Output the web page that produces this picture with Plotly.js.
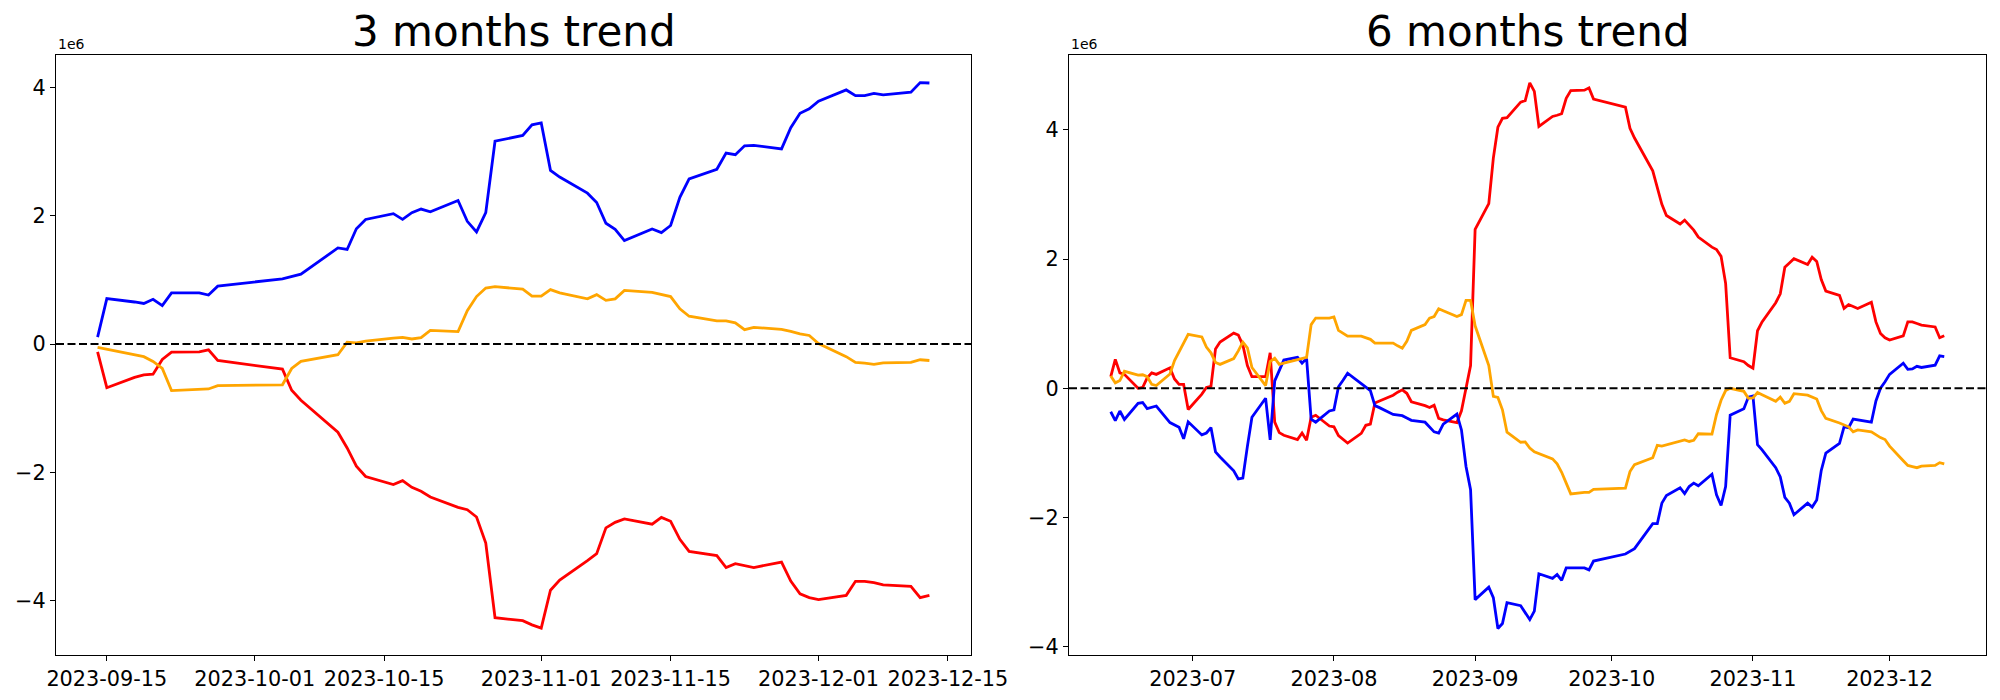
<!DOCTYPE html>
<html>
<head>
<meta charset="utf-8">
<script src="https://cdn.plot.ly/plotly-3.0.1.min.js"></script>
<style>html,body{margin:0;padding:0;background:#fff}#chart{width:2000px;height:700px}</style>
</head>
<body>
<div id="chart"></div>
<script>
// ---- 3 months panel (values in units of 1e6) ----
const leftDates = ['2023-09-14','2023-09-15','2023-09-18','2023-09-19','2023-09-20','2023-09-21','2023-09-22','2023-09-25','2023-09-26','2023-09-27','2023-10-04','2023-10-05','2023-10-06','2023-10-10','2023-10-11','2023-10-12','2023-10-13','2023-10-16','2023-10-17','2023-10-18','2023-10-19','2023-10-20','2023-10-23','2023-10-24','2023-10-25','2023-10-26','2023-10-27','2023-10-30','2023-10-31','2023-11-01','2023-11-02','2023-11-03','2023-11-06','2023-11-07','2023-11-08','2023-11-09','2023-11-10','2023-11-13','2023-11-14','2023-11-15','2023-11-16','2023-11-17','2023-11-20','2023-11-21','2023-11-22','2023-11-23','2023-11-24','2023-11-27','2023-11-28','2023-11-29','2023-11-30','2023-12-01','2023-12-04','2023-12-05','2023-12-06','2023-12-07','2023-12-08','2023-12-11','2023-12-12','2023-12-13'];
const leftBlue = [0.11,0.71,0.657,0.634,0.70,0.60,0.80,0.80,0.766,0.904,1.019,1.055,1.09,1.50,1.476,1.80,1.945,2.035,1.945,2.05,2.107,2.065,2.24,1.915,1.75,2.05,3.165,3.255,3.42,3.45,2.71,2.606,2.355,2.21,1.885,1.79,1.614,1.795,1.74,1.85,2.29,2.576,2.727,2.98,2.955,3.093,3.10,3.045,3.375,3.60,3.67,3.79,3.965,3.875,3.875,3.91,3.887,3.93,4.08,4.073];
const leftRed = [-0.12,-0.68,-0.52,-0.48,-0.47,-0.24,-0.125,-0.12,-0.09,-0.256,-0.39,-0.72,-0.875,-1.375,-1.62,-1.905,-2.066,-2.19,-2.13,-2.235,-2.295,-2.385,-2.547,-2.583,-2.697,-3.105,-4.268,-4.315,-4.38,-4.43,-3.84,-3.68,-3.377,-3.27,-2.866,-2.78,-2.728,-2.81,-2.704,-2.764,-3.046,-3.233,-3.30,-3.486,-3.426,-3.45,-3.486,-3.40,-3.697,-3.895,-3.955,-3.985,-3.92,-3.70,-3.70,-3.72,-3.755,-3.78,-3.955,-3.92];
const leftOrange = [-0.05,-0.08,-0.166,-0.196,-0.27,-0.38,-0.725,-0.707,-0.70,-0.647,-0.635,-0.38,-0.268,-0.166,0.03,0.02,0.045,0.093,0.105,0.08,0.10,0.213,0.195,0.52,0.742,0.874,0.898,0.856,0.748,0.748,0.85,0.80,0.706,0.772,0.682,0.706,0.838,0.808,0.775,0.742,0.55,0.435,0.363,0.363,0.333,0.225,0.261,0.231,0.20,0.16,0.135,0.01,-0.196,-0.286,-0.298,-0.316,-0.292,-0.286,-0.244,-0.256];
const leftTicks = ['2023-09-15','2023-10-01','2023-10-15','2023-11-01','2023-11-15','2023-12-01','2023-12-15'];

// ---- 6 months panel (values in units of 1e6) ----
const rightDates = ['2023-06-13','2023-06-14','2023-06-15','2023-06-16','2023-06-19','2023-06-20','2023-06-21','2023-06-22','2023-06-23','2023-06-26','2023-06-27','2023-06-28','2023-06-29','2023-06-30',
'2023-07-03','2023-07-04','2023-07-05','2023-07-06','2023-07-07','2023-07-10','2023-07-11','2023-07-12','2023-07-13','2023-07-14','2023-07-17','2023-07-18','2023-07-19','2023-07-20','2023-07-21','2023-07-24','2023-07-25','2023-07-26','2023-07-27','2023-07-28','2023-07-31',
'2023-08-01','2023-08-02','2023-08-03','2023-08-04','2023-08-07','2023-08-08','2023-08-09','2023-08-10','2023-08-11','2023-08-14','2023-08-15','2023-08-16','2023-08-17','2023-08-18','2023-08-21','2023-08-22','2023-08-23','2023-08-24','2023-08-25','2023-08-28','2023-08-29','2023-08-30','2023-08-31',
'2023-09-01','2023-09-04','2023-09-05','2023-09-06','2023-09-07','2023-09-08','2023-09-11','2023-09-12','2023-09-13','2023-09-14','2023-09-15','2023-09-18','2023-09-19','2023-09-20','2023-09-21','2023-09-22','2023-09-25','2023-09-26','2023-09-27',
'2023-10-04','2023-10-05','2023-10-06','2023-10-10','2023-10-11','2023-10-12','2023-10-13','2023-10-16','2023-10-17','2023-10-18','2023-10-19','2023-10-20','2023-10-23','2023-10-24','2023-10-25','2023-10-26','2023-10-27','2023-10-30','2023-10-31',
'2023-11-01','2023-11-02','2023-11-03','2023-11-06','2023-11-07','2023-11-08','2023-11-09','2023-11-10','2023-11-13','2023-11-14','2023-11-15','2023-11-16','2023-11-17','2023-11-20','2023-11-21','2023-11-22','2023-11-23','2023-11-24','2023-11-27','2023-11-28','2023-11-29','2023-11-30',
'2023-12-01','2023-12-04','2023-12-05','2023-12-06','2023-12-07','2023-12-08','2023-12-11','2023-12-12','2023-12-13'];
const rightBlue = [-0.364,-0.50,-0.352,-0.484,-0.233,-0.221,-0.316,-0.293,-0.275,-0.531,-0.567,-0.603,-0.782,-0.52,
-0.722,-0.693,-0.609,-0.985,-1.063,-1.278,-1.403,-1.391,-0.90,-0.448,-0.155,-0.80,0.113,0.275,0.436,0.478,0.388,0.46,-0.48,-0.525,-0.352,
-0.334,0.024,0.125,0.233,0.072,0.018,-0.036,-0.269,-0.30,-0.406,-0.41,-0.424,-0.46,-0.496,-0.525,-0.597,-0.675,-0.693,-0.555,-0.40,-0.645,-1.212,-1.57,
-3.272,-3.08,-3.242,-3.72,-3.642,-3.319,-3.367,-3.469,-3.582,-3.45,-2.872,-2.943,-2.884,-2.973,-2.782,-2.782,-2.782,-2.812,-2.675,
-2.567,-2.525,-2.484,-2.096,-2.096,-1.779,-1.66,-1.54,-1.63,-1.522,-1.469,-1.51,-1.331,-1.648,-1.815,-1.522,-0.418,-0.316,-0.137,
-0.119,-0.872,-0.955,-1.23,-1.373,-1.69,-1.779,-1.958,-1.779,-1.839,-1.731,-1.272,-1.003,-0.854,-0.597,-0.609,-0.478,-0.49,-0.525,-0.197,0.0,0.101,
0.215,0.388,0.293,0.299,0.34,0.322,0.358,0.501,0.49];
const rightRed = [0.179,0.448,0.239,0.215,0.0,0.012,0.161,0.239,0.215,0.316,0.143,0.06,0.06,-0.328,
-0.09,0.012,0.03,0.609,0.716,0.854,0.824,0.669,0.352,0.179,0.179,0.549,-0.525,-0.687,-0.728,-0.794,-0.693,-0.806,-0.448,-0.418,-0.585,
-0.597,-0.734,-0.788,-0.848,-0.699,-0.573,-0.555,-0.227,-0.197,-0.107,-0.06,-0.024,-0.078,-0.209,-0.269,-0.299,-0.263,-0.466,-0.49,-0.531,-0.35,0.012,0.352,
2.46,2.86,3.564,4.042,4.179,4.19,4.43,4.454,4.728,4.597,4.054,4.209,4.227,4.251,4.49,4.609,4.615,4.651,4.478,
4.352,4.024,3.875,3.367,3.116,2.848,2.675,2.543,2.603,2.519,2.448,2.34,2.185,2.149,2.042,1.624,0.472,0.412,0.352,
0.31,0.89,1.027,1.325,1.463,1.875,1.94,2.006,1.916,2.03,1.964,1.684,1.504,1.439,1.236,1.296,1.266,1.236,1.331,1.027,0.848,0.782,
0.746,0.812,1.027,1.027,1.003,0.979,0.949,0.782,0.812];
const rightOrange = [0.191,0.084,0.119,0.263,0.203,0.209,0.179,0.06,0.042,0.221,0.43,0.567,0.704,0.836,
0.794,0.639,0.549,0.40,0.37,0.46,0.579,0.716,0.627,0.322,0.042,0.412,0.466,0.37,0.388,0.442,0.46,0.478,0.985,1.087,1.087,
1.104,0.896,0.854,0.806,0.806,0.782,0.758,0.699,0.699,0.699,0.657,0.621,0.728,0.896,0.985,1.087,1.11,1.23,1.20,1.11,1.14,1.361,1.361,
0.967,0.352,-0.125,-0.143,-0.334,-0.681,-0.836,-0.83,-0.925,-0.985,-1.009,-1.093,-1.17,-1.301,-1.469,-1.636,-1.612,-1.612,-1.564,
-1.546,-1.29,-1.182,-1.075,-0.884,-0.896,-0.878,-0.824,-0.80,-0.824,-0.806,-0.704,-0.71,-0.406,-0.185,-0.036,0.0,-0.048,-0.155,
-0.149,-0.066,-0.10,-0.203,-0.137,-0.233,-0.203,-0.084,-0.107,-0.137,-0.167,-0.346,-0.466,-0.537,-0.573,-0.597,-0.675,-0.645,-0.675,-0.722,-0.764,-0.794,
-0.896,-1.122,-1.194,-1.212,-1.23,-1.206,-1.194,-1.152,-1.17];
const rightTicks = ['2023-07-01','2023-08-01','2023-09-01','2023-10-01','2023-11-01','2023-12-01'];

const yTicks = [-4,-2,0,2,4];
const titles = ['3 months trend','6 months trend'];
const colors = {blue:'#0000ff', red:'#ff0000', orange:'#ffa500'};

const FONT = 'DejaVu Sans, sans-serif';
function line(x, y, color, xa, ya){
  return {x:x, y:y, type:'scatter', mode:'lines', xaxis:xa, yaxis:ya,
    line:{color:color, width:2.8}, hoverinfo:'skip', showlegend:false};
}
const data = [
  line(leftDates, leftBlue, colors.blue, 'x', 'y'),
  line(leftDates, leftRed, colors.red, 'x', 'y'),
  line(leftDates, leftOrange, colors.orange, 'x', 'y'),
  line(rightDates, rightRed, colors.red, 'x2', 'y2'),
  line(rightDates, rightBlue, colors.blue, 'x2', 'y2'),
  line(rightDates, rightOrange, colors.orange, 'x2', 'y2')
];

const yDom = [45/700, 645/700];
function xaxis(dom, range, ticks, fmt){
  return {domain:dom, range:range, type:'date', tickvals:ticks, tickformat:fmt,
    showgrid:false, zeroline:false, showline:true, mirror:true, linecolor:'#000', linewidth:1.1,
    ticks:'outside', ticklen:5, tickwidth:1.1, tickcolor:'#000',
    tickfont:{family:FONT, size:20.8, color:'#000'}, fixedrange:true};
}
function yaxis(range, anchor){
  return {domain:yDom, range:range, anchor:anchor, tickvals:yTicks,
    showgrid:false, zeroline:false, showline:true, mirror:true, linecolor:'#000', linewidth:1.1,
    ticks:'outside', ticklen:5, tickwidth:1.1, tickcolor:'#000',
    tickfont:{family:FONT, size:20.8, color:'#000'}, fixedrange:true};
}
const layout = {
  width:2000, height:700,
  margin:{l:0, r:0, t:0, b:0},
  paper_bgcolor:'#fff', plot_bgcolor:'#fff',
  showlegend:false,
  font:{family:FONT, color:'#000'},
  xaxis: Object.assign(xaxis([56/2000, 971/2000], ['2023-09-09 12:00','2023-12-17 12:00'], leftTicks, '%Y-%m-%d'), {anchor:'y'}),
  yaxis: yaxis([-4.85, 4.51], 'x'),
  xaxis2: Object.assign(xaxis([1069/2000, 1986/2000], ['2023-06-03 20:00','2023-12-22 04:00'], rightTicks, '%Y-%m'), {anchor:'y2'}),
  yaxis2: yaxis([-4.13, 5.16], 'x2'),
  shapes:[
    {type:'line', xref:'x domain', yref:'y', x0:0, x1:1, y0:0, y1:0, line:{color:'#000', width:2, dash:'8px,3.5px'}},
    {type:'line', xref:'x2 domain', yref:'y2', x0:0, x1:1, y0:0, y1:0, line:{color:'#000', width:2, dash:'8px,3.5px'}}
  ],
  annotations:[
    {text:titles[0], xref:'x domain', yref:'paper', x:0.5, y:1-32/700, xanchor:'center', yanchor:'middle', showarrow:false, font:{family:FONT, size:42, color:'#000'}},
    {text:titles[1], xref:'x2 domain', yref:'paper', x:0.5, y:1-32/700, xanchor:'center', yanchor:'middle', showarrow:false, font:{family:FONT, size:42, color:'#000'}},
    {text:'1e6', xref:'x domain', yref:'y domain', x:0, y:1, xanchor:'left', yanchor:'bottom', yshift:1, showarrow:false, font:{family:FONT, size:14, color:'#000'}},
    {text:'1e6', xref:'x2 domain', yref:'y2 domain', x:0, y:1, xanchor:'left', yanchor:'bottom', yshift:1, showarrow:false, font:{family:FONT, size:14, color:'#000'}}
  ]
};
Plotly.newPlot('chart', data, layout, {staticPlot:true, displayModeBar:false});
</script>
</body>
</html>
